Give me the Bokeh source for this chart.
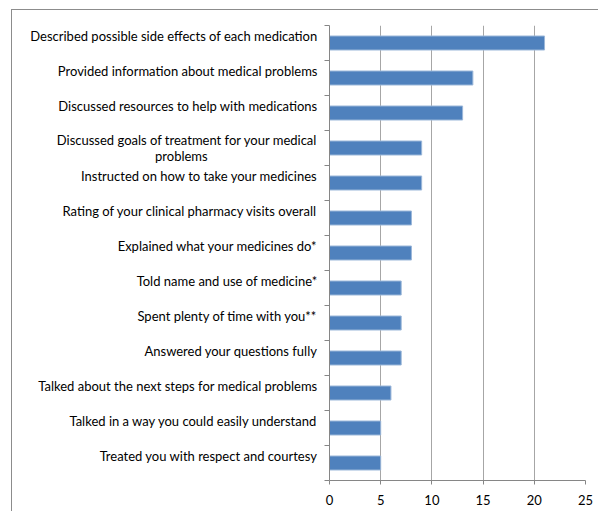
from bokeh.plotting import figure
from bokeh.models import (ColumnDataSource, Range1d, FixedTicker,
                          InlineStyleSheet)
from bokeh.embed import file_html
from bokeh.resources import INLINE

categories = [
    "Described possible side effects of each medication",
    "Provided information about medical problems",
    "Discussed resources to help with medications",
    "Discussed goals of treatment for your medical\nproblems",
    "Instructed on how to take your medicines",
    "Rating of your clinical pharmacy visits overall",
    "Explained what your medicines do*",
    "Told name and use of medicine*",
    "Spent plenty of time with you**",
    "Answered your questions fully",
    "Talked about the next steps for medical problems",
    "Talked in a way you could easily understand",
    "Treated you with respect and courtesy",
]
values = [21, 14, 13, 9, 9, 8, 8, 7, 7, 7, 6, 5, 5]
x_ticks = [0, 5, 10, 15, 20, 25]

FONT = "Lato"
n = len(categories)
ypos = [i + 0.5 for i in range(n)]

frame_css = InlineStyleSheet(css="""
:host::after {
  content: "";
  position: absolute;
  left: 11px; top: 9px; width: 700px; height: 700px;
  border: 1px solid #8c8c8c;
  pointer-events: none;
  box-sizing: border-box;
}
""")

p = figure(width=598, height=511, output_backend="svg", toolbar_location=None,
           x_range=Range1d(0, 25), y_range=Range1d(n, 0),
           min_border_left=329, min_border_right=13,
           min_border_top=25, min_border_bottom=31,
           stylesheets=[frame_css])
p.outline_line_color = None
p.background_fill_color = "white"
p.border_fill_color = "white"

src = ColumnDataSource(dict(y=ypos, v=values))
p.hbar(y="y", left=0, right="v", height=0.4, source=src,
       fill_color="#4f81bd", line_color="#9bb7d9", line_width=1)

# x axis
p.xaxis.ticker = FixedTicker(ticks=x_ticks)
p.xaxis.major_tick_in = 0
p.xaxis.major_tick_out = 4
p.xaxis.minor_tick_line_color = None
p.xaxis.axis_line_color = "#868686"
p.xaxis.major_tick_line_color = "#868686"
p.xaxis.major_label_text_font = FONT
p.xaxis.major_label_text_font_size = "13px"
p.xaxis.major_label_text_color = "#000000"
p.xaxis.major_label_standoff = 10

# y axis: category labels slightly above the bar centre, boundary ticks as minor ticks
NBSP = "\u00a0"
label_pos = []
overrides = {}
for i, cat in enumerate(categories):
    lines = cat.split("\n")
    if len(lines) == 1:
        pos = ypos[i] - 0.2
        text = cat
    else:
        # centre the continuation line under the first one (as in the original)
        pos = ypos[i]
        text = lines[0] + "\n" + lines[1] + NBSP * 33
    label_pos.append(pos)
    overrides[pos] = text

p.yaxis.ticker = FixedTicker(ticks=label_pos, minor_ticks=list(range(n + 1)))
p.yaxis.major_label_overrides = overrides
p.yaxis.major_tick_in = 0
p.yaxis.major_tick_out = 0
p.yaxis.major_tick_line_color = None
p.yaxis.minor_tick_in = 0
p.yaxis.minor_tick_out = 5
p.yaxis.minor_tick_line_color = "#868686"
p.yaxis.axis_line_color = "#868686"
p.yaxis.major_label_standoff = 7
p.yaxis.major_label_text_font = FONT
p.yaxis.major_label_text_font_size = "13px"
p.yaxis.major_label_text_line_height = 1.0
p.yaxis.major_label_text_color = "#000000"

p.xgrid.ticker = FixedTicker(ticks=x_ticks)
p.xgrid.grid_line_color = "#a6a6a6"
p.ygrid.grid_line_color = None

open("out.html", "w").write(file_html(p, INLINE))
